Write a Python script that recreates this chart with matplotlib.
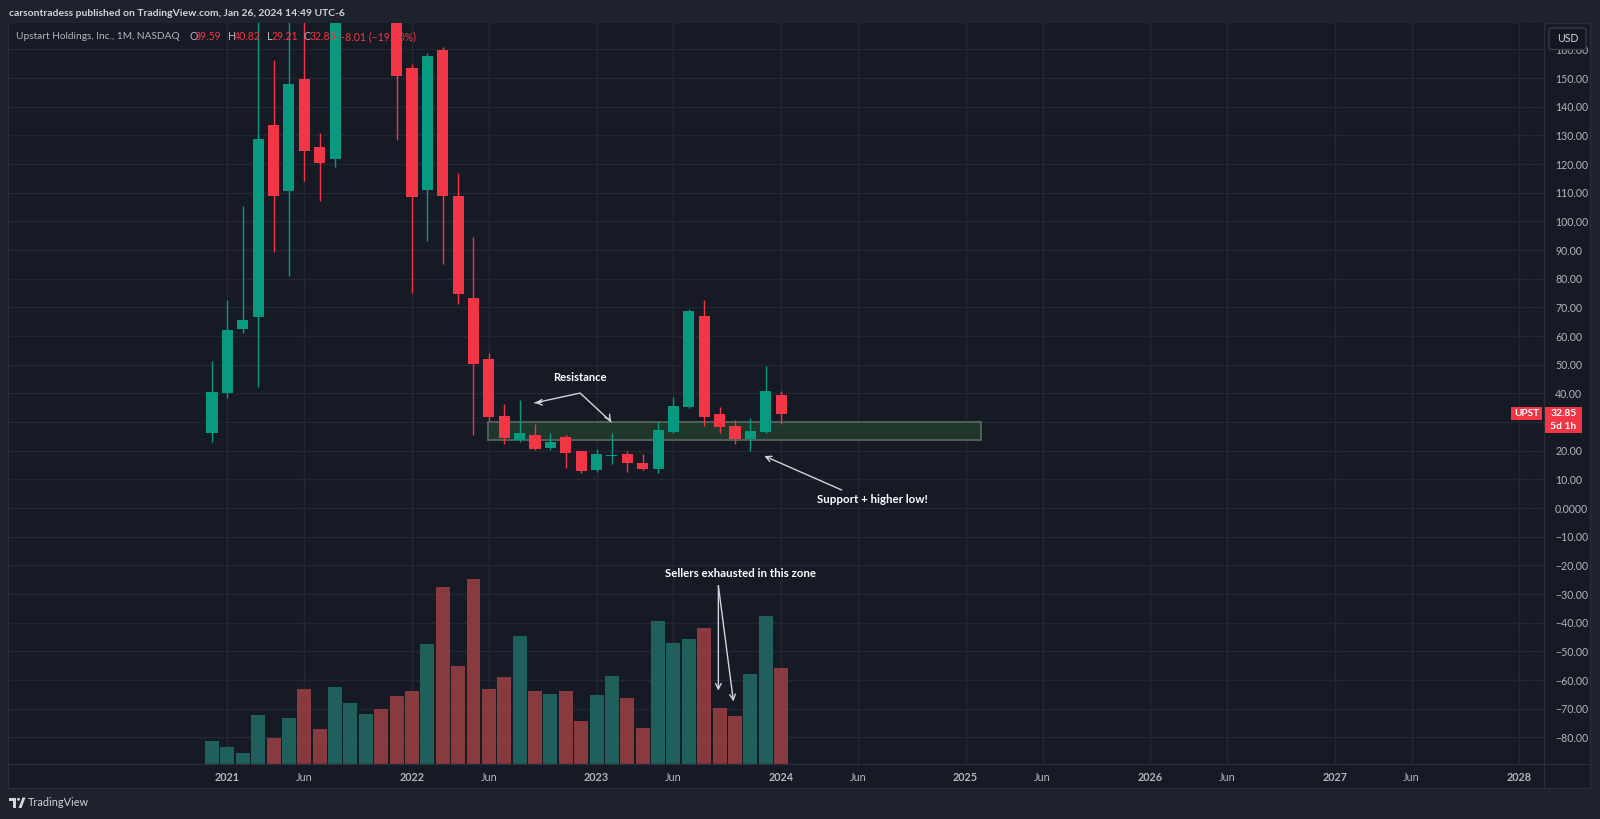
import matplotlib
matplotlib.use("Agg")
import matplotlib.pyplot as plt
import matplotlib.patches as mpatches
from matplotlib.lines import Line2D
import numpy as np

plt.rcParams['font.family'] = ['Lato', 'DejaVu Sans']

# monthly candles, Dec 2020 .. Jan 2024 (x = months since Dec 2020)
months = ["2020-12", "2021-01", "2021-02", "2021-03", "2021-04", "2021-05", "2021-06",
          "2021-07", "2021-08", "2021-09", "2021-10", "2021-11", "2021-12", "2022-01",
          "2022-02", "2022-03", "2022-04", "2022-05", "2022-06", "2022-07", "2022-08",
          "2022-09", "2022-10", "2022-11", "2022-12", "2023-01", "2023-02", "2023-03",
          "2023-04", "2023-05", "2023-06", "2023-07", "2023-08", "2023-09", "2023-10",
          "2023-11", "2023-12", "2024-01"]
opens = [26.3, 40.2, 62.5, 66.6, 133.6, 110.7, 149.8, 125.8, 121.6, 219.0, 318.0, 345.0,
         182.0, 153.4, 110.9, 159.7, 108.9, 73.1, 52.1, 32.1, 23.7, 25.5, 21.0, 24.9,
         19.9, 13.3, 18.3, 18.8, 15.6, 13.6, 26.4, 35.3, 67.1, 32.7, 28.7, 24.0, 26.4, 39.59]
highs = [51.4, 72.5, 105.3, 175.0, 156.3, 175.0, 175.0, 130.7, 232.0, 334.0, 401.5, 346.0,
         195.0, 155.0, 158.6, 160.7, 116.7, 94.4, 54.0, 36.3, 37.7, 29.3, 26.0, 25.5,
         20.4, 20.7, 26.3, 19.9, 18.8, 29.9, 38.8, 69.3, 72.5, 35.3, 30.7, 31.5, 49.6, 40.82]
lows = [23.0, 38.4, 60.9, 42.3, 89.4, 80.9, 114.2, 107.2, 119.0, 205.0, 285.0, 172.0,
        128.4, 75.1, 93.2, 85.1, 71.2, 25.5, 30.5, 22.3, 23.1, 20.2, 20.2, 14.1,
        12.1, 12.4, 15.5, 12.7, 13.4, 12.1, 26.0, 34.8, 28.7, 26.0, 22.5, 20.0, 26.0, 29.21]
closes = [40.6, 62.1, 65.6, 128.7, 108.8, 147.9, 124.6, 120.4, 218.0, 316.0, 342.0, 182.0,
          150.8, 108.6, 157.7, 108.8, 74.6, 50.1, 31.6, 24.3, 26.0, 20.6, 23.1, 19.3,
          12.9, 18.7, 18.6, 15.8, 13.6, 27.2, 35.7, 68.7, 31.9, 28.4, 24.0, 26.9, 40.86, 32.85]
volumes = [28.0, 20.4, 13.2, 59.2, 31.2, 55.2, 89.6, 41.6, 92.8, 72.8, 60.4, 65.6,
           81.2, 87.6, 144.0, 212.0, 118.0, 221.6, 89.6, 104.4, 153.2, 87.6, 83.6, 87.6,
           52.0, 82.4, 105.2, 79.2, 42.8, 171.2, 144.8, 149.6, 162.8, 66.8, 57.2, 107.6,
           177.6, 114.8]  # millions of shares

time_ticks = [1, 6, 13, 18, 25, 30, 37, 42, 49, 54, 61, 66, 73, 78, 85]
time_labels = ["2021", "Jun", "2022", "Jun", "2023", "Jun", "2024", "Jun",
               "2025", "Jun", "2026", "Jun", "2027", "Jun", "2028"]
price_ticks = list(range(-80, 170, 10))

zone_bottom, zone_top = 23.7, 30.1
zone_start, zone_end = 17.96, 50.0

W, H = 1600, 819
BG = "#1e222d"
PANE = "#161a25"
GRID = "#232633"
LINE = "#2a2e39"
TXT = "#b2b5be"
UP, DOWN = "#089981", "#f23645"
VUP, VDOWN = "#1f605c", "#883a3e"


def fx(px):
    return px / W


def fy(py):
    return 1 - py / H


def price_fmt(v):
    # the 30.00 label sits under the last-price tag
    if v == 30:
        return ""
    if v == 0:
        return "0.0000"
    s = f"{abs(v):.2f}"
    return ("\u2212" + s) if v < 0 else s


fig = plt.figure(figsize=(W / 100, H / 100), dpi=100, facecolor=BG)

# pane background + separators
fig.add_artist(mpatches.Rectangle((fx(8), fy(788)), (1590 - 8) / W, (788 - 23) / H,
                                  transform=fig.transFigure, facecolor=PANE,
                                  edgecolor=LINE, lw=1, zorder=-1))

ax = fig.add_axes([fx(9), fy(764), (1544 - 9) / W, (764 - 23) / H])
ax.set_facecolor(PANE)

o = np.array(opens)
h = np.array(highs)
l = np.array(lows)
c = np.array(closes)
x = np.arange(len(months))
up = c >= o
col = np.where(up, UP, DOWN)

# volume on a twin axis, bottom of the pane
axv = ax.twinx()
axv.bar(x, volumes, width=0.91, color=np.where(up, VUP, VDOWN), zorder=2)
axv.set_ylim(0, max(volumes) / 0.249)
axv.axis("off")

ax.add_patch(mpatches.Rectangle((zone_start, zone_bottom), zone_end - zone_start,
                                zone_top - zone_bottom, facecolor="#20382c",
                                edgecolor="#55655b", lw=1.3, zorder=1))
ax.vlines(x, l, h, colors=col, lw=1, zorder=2)
ax.bar(x, np.maximum(np.abs(c - o), 0.35), bottom=np.minimum(o, c), width=0.72,
       color=col, zorder=3)

ax.set_xlim(-13.2, 86.6)
ax.set_ylim(-89.3, 169.2)
ax.yaxis.tick_right()
ax.set_yticks(price_ticks)
ax.set_yticklabels([price_fmt(v) for v in price_ticks])
ax.set_xticks(time_ticks)
ax.set_xticklabels(time_labels)
for t in ax.get_xticklabels():
    if t.get_text() != "Jun":
        t.set_fontweight("bold")
ax.tick_params(axis="y", length=0, pad=8, labelcolor=TXT, labelsize=7.6)
ax.tick_params(axis="x", length=0, pad=6, labelcolor=TXT, labelsize=7.8)
ax.grid(color=GRID, lw=1)
ax.set_axisbelow(True)
for side in ["top", "left", "bottom", "right"]:
    ax.spines[side].set_visible(False)

fig.add_artist(Line2D([fx(8), fx(1590)], [fy(764), fy(764)], color=LINE, lw=1,
                      transform=fig.transFigure, zorder=4))
fig.add_artist(Line2D([fx(1544), fx(1544)], [fy(23), fy(788)], color=LINE, lw=1,
                      transform=fig.transFigure, zorder=4))

# annotations
arrow = dict(arrowstyle="->", color="#d1d4dc", lw=1, shrinkA=0, shrinkB=0,
             mutation_scale=10)
ax.text(23.93, 45.7, "Resistance", color="white", fontsize=8, fontweight="bold",
        ha="center", va="center", zorder=5)
ax.plot([21.0, 23.93, 25.94], [36.7, 40.1, 30.1], color="#d1d4dc", lw=1, zorder=5)
ax.annotate("", xy=(21.0, 36.7), xytext=(21.4, 36.85), arrowprops=arrow, zorder=5)
ax.annotate("", xy=(25.94, 30.1), xytext=(25.8, 31.3), arrowprops=arrow, zorder=5)

ax.text(42.91, 2.8, "Support + higher low!", color="white", fontsize=8.3,
        fontweight="bold", ha="center", va="center", zorder=5)
ax.annotate("", xy=(35.91, 18.14), xytext=(40.94, 6.28), arrowprops=arrow, zorder=5)

ax.text(34.37, -22.8, "Sellers exhausted in this zone", color="white", fontsize=8.3,
        fontweight="bold", ha="center", va="center", zorder=5)
ax.annotate("", xy=(32.92, -63.7), xytext=(32.92, -27.1), arrowprops=arrow, zorder=5)
ax.annotate("", xy=(33.9, -67.5), xytext=(32.92, -27.1), arrowprops=arrow, zorder=5)

# header lines
fig.text(fx(9), fy(13.5), "carsontradess published on TradingView.com, Jan 26, 2024 14:49 UTC-6",
         color="#d1d4dc", fontsize=7.5, fontweight="bold", ha="left", va="center")
hdr = [(15.7, "Upstart Holdings, Inc., 1M, NASDAQ", TXT, 7.3),
       (189, "O", TXT, 7.6), (195, f"{opens[-1]:.2f}", DOWN, 7.6),
       (227.7, "H", TXT, 7.6), (234.3, f"{highs[-1]:.2f}", DOWN, 7.6),
       (266.5, "L", TXT, 7.6), (272.0, f"{lows[-1]:.2f}", DOWN, 7.6),
       (304.0, "C", TXT, 7.6), (309.3, f"{closes[-1]:.2f}", DOWN, 7.6),
       (339.0, "\u22128.01 (\u221219.60%)", DOWN, 7.6)]
for px, s, cc, fs in hdr:
    fig.text(fx(px), fy(36.7), s, color=cc, fontsize=fs, ha="left", va="center",
             zorder=6)

# price axis widgets
fig.add_artist(mpatches.FancyBboxPatch((fx(1549), fy(49.5)), 37 / W, 21.5 / H,
                                       boxstyle="round,pad=0,rounding_size=0.002",
                                       transform=fig.transFigure, facecolor="#131722",
                                       edgecolor="#363a45", lw=1, zorder=6))
fig.text(fx(1567.5), fy(38.5), "USD", color="#d1d4dc", fontsize=7.6, ha="center",
         va="center", zorder=7)
fig.add_artist(mpatches.Rectangle((fx(1511), fy(420)), 31 / W, 13.3 / H,
                                  transform=fig.transFigure, facecolor=DOWN,
                                  edgecolor="none", zorder=6))
fig.text(fx(1526.5), fy(413.5), "UPST", color="white", fontsize=7.2, fontweight="bold",
         ha="center", va="center", zorder=7)
fig.add_artist(mpatches.Rectangle((fx(1544.5), fy(433)), 37.5 / W, 26.3 / H,
                                  transform=fig.transFigure, facecolor=DOWN,
                                  edgecolor="none", zorder=6))
fig.text(fx(1563.5), fy(413.5), f"{closes[-1]:.2f}", color="white", fontsize=7.4,
         fontweight="bold", ha="center", va="center", zorder=7)
fig.text(fx(1563.5), fy(426), "5d 1h", color="white", fontsize=7.4, fontweight="bold",
         ha="center", va="center", zorder=7)

# footer logo
LOGO = "#d1d4dc"
fig.add_artist(mpatches.Rectangle((fx(9), fy(800.5)), 7 / W, 3 / H,
                                  transform=fig.transFigure, color=LOGO, lw=0))
fig.add_artist(mpatches.Rectangle((fx(13), fy(808)), 3 / W, 10.5 / H,
                                  transform=fig.transFigure, color=LOGO, lw=0))
fig.add_artist(mpatches.Ellipse((fx(18.5), fy(799.3)), 3 / W, 3 / H,
                                transform=fig.transFigure, color=LOGO, lw=0))
fig.add_artist(mpatches.Polygon([(fx(18.5), fy(808)), (fx(21.5), fy(808)),
                                 (fx(25.5), fy(797.5)), (fx(22.5), fy(797.5))],
                                transform=fig.transFigure, color=LOGO, lw=0))
fig.text(fx(27.5), fy(803), "TradingView", color=LOGO, fontsize=7.8, ha="left",
         va="center")

fig.savefig("out.png", dpi=100, facecolor=BG)
